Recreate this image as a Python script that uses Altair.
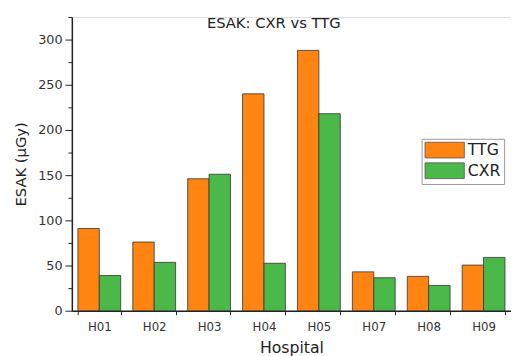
import altair as alt
import pandas as pd

hospitals = ["H01", "H02", "H03", "H04", "H05", "H07", "H08", "H09"]
ttg = [91, 76, 146, 240, 288, 43, 38, 50.5]
cxr = [39, 53.5, 151, 52.5, 218, 36.5, 28, 59]
series = ["TTG", "CXR"]
colors = ["#FF8412", "#4AB94A"]
y_ticks = list(range(0, 326, 25))

rows = []
for h, t, c in zip(hospitals, ttg, cxr):
    rows.append({"Hospital": h, "Series": "TTG", "ESAK": t})
    rows.append({"Hospital": h, "Series": "CXR", "ESAK": c})
df = pd.DataFrame(rows)

FONT = "DejaVu Sans"

bars = alt.Chart(df).mark_bar(stroke="#333333", strokeWidth=0.8).encode(
    x=alt.X("Hospital:N", sort=hospitals, title="Hospital",
            scale=alt.Scale(paddingInner=0.22, paddingOuter=0.11),
            axis=alt.Axis(labelAngle=0, tickBand="extent", tickSize=4,
                          domainColor="#222", tickColor="#222", domainWidth=1.5,
                          labelFontSize=12, labelColor="#333", labelFont=FONT,
                          titleFont=FONT, titleFontSize=16, titleFontWeight="normal",
                          titleColor="#222", titlePadding=8, labelPadding=7)),
    xOffset=alt.XOffset("Series:N", sort=series),
    y=alt.Y("ESAK:Q", title="ESAK (μGy)",
            scale=alt.Scale(domain=[0, 325], nice=False),
            axis=alt.Axis(values=y_ticks, grid=False,
                          labelExpr="datum.value % 50 === 0 ? datum.label : ''",
                          tickSize={"condition": {"test": "datum.value % 50 === 0", "value": 7}, "value": 4},
                          domainColor="#222", tickColor="#222", domainWidth=1.5,
                          labelFontSize=13, labelColor="#333", labelFont=FONT, labelPadding=3,
                          titleFont=FONT, titleFontSize=15, titleFontWeight="normal",
                          titleColor="#222", titlePadding=9)),
    color=alt.Color("Series:N", sort=series,
                    scale=alt.Scale(domain=series, range=colors),
                    legend=alt.Legend(title=None, orient="none", legendX=356, legendY=124,
                                      symbolType="M-1,-1H4V1H-1Z", symbolSize=256,
                                      symbolStrokeColor="#555", symbolStrokeWidth=0.8,
                                      symbolOpacity=1, rowPadding=0, labelOffset=27,
                                      labelFontSize=16, labelFont=FONT, labelColor="#222",
                                      strokeColor="#999", padding=3, fillColor="white")),
).properties(
    width=447, height=299,
    title=alt.TitleParams("ESAK: CXR vs TTG", anchor="middle", offset=-15, dx=-18,
                          font=FONT, fontSize=15, fontWeight="normal", color="#222"),
).configure_view(stroke=None).configure(padding={"left": 6, "top": 5, "right": 0, "bottom": 0})

bars.save("out.html", embed_options={"renderer": "svg", "actions": False})
